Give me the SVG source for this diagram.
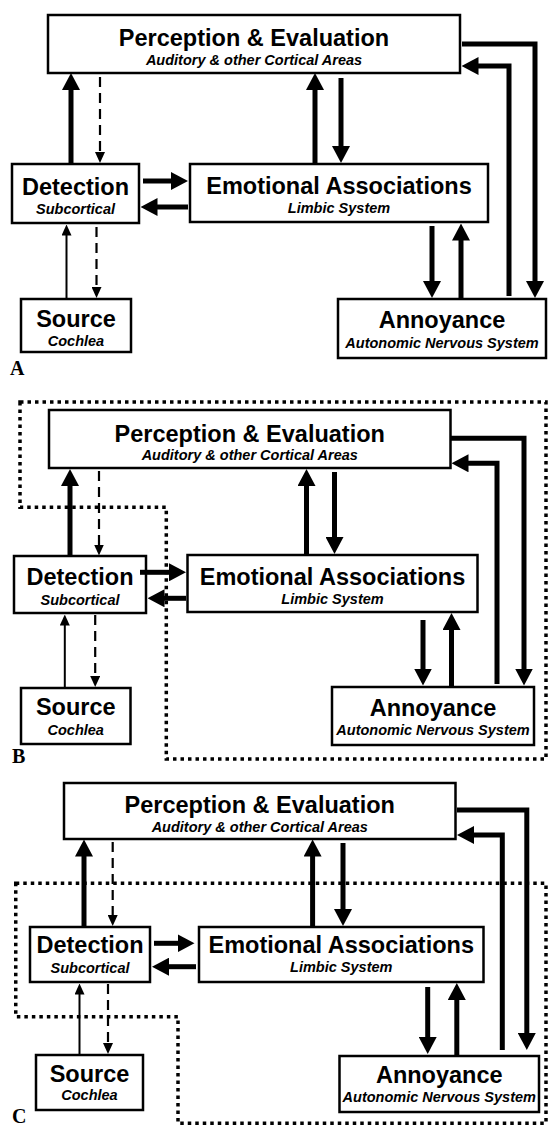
<svg xmlns="http://www.w3.org/2000/svg" width="549" height="1126" viewBox="0 0 549 1126">
<style>
.box{fill:#fff;stroke:#000;stroke-width:2.5}
.t{font-family:"Liberation Sans",Arial,sans-serif;font-weight:bold;font-size:23.5px;text-anchor:middle;fill:#000}
.s{font-family:"Liberation Sans",Arial,sans-serif;font-weight:bold;font-style:italic;font-size:14.5px;text-anchor:middle;fill:#000}
.lbl{font-family:"Liberation Serif","Times New Roman",serif;font-weight:bold;font-size:20px;fill:#000}
.thick{fill:none;stroke:#000;stroke-width:5;marker-end:url(#hb)}
.dash{fill:none;stroke:#000;stroke-width:2.2;stroke-dasharray:10 6;marker-end:url(#hs)}
.thin{fill:none;stroke:#000;stroke-width:2;marker-end:url(#hs)}
.dot{fill:none;stroke:#000;stroke-width:3.5;stroke-dasharray:3.5 4}
</style>
<defs>
<marker id="hb" markerUnits="userSpaceOnUse" markerWidth="17" markerHeight="18" viewBox="0 0 17 18" refX="0.5" refY="9" orient="auto"><path d="M0,0 L17,9 L0,18 Z" fill="#000"/></marker>
<marker id="hs" markerUnits="userSpaceOnUse" markerWidth="11" markerHeight="10" viewBox="0 0 11 10" refX="0.5" refY="5" orient="auto"><path d="M0,0 L11,5 L0,10 Z" fill="#000"/></marker>
</defs>

<!-- Panel A -->
<g id="A-perception"><rect class="box" x="48" y="15" width="412" height="58"/><text class="t" x="254" y="45.5">Perception &amp; Evaluation</text><text class="s" x="254" y="64.5">Auditory &amp; other Cortical Areas</text></g>
<g id="A-detection"><rect class="box" x="12" y="164" width="127" height="59"/><text class="t" x="75.5" y="195">Detection</text><text class="s" x="75.5" y="214">Subcortical</text></g>
<g id="A-emotional"><rect class="box" x="190" y="164" width="298" height="58"/><text class="t" x="339" y="194">Emotional Associations</text><text class="s" x="339" y="213">Limbic System</text></g>
<g id="A-source"><rect class="box" x="21" y="299" width="110" height="53"/><text class="t" x="76" y="327">Source</text><text class="s" x="76" y="346">Cochlea</text></g>
<g id="A-annoyance"><rect class="box" x="338" y="299" width="208" height="59"/><text class="t" x="442" y="328">Annoyance</text><text class="s" x="442" y="348">Autonomic Nervous System</text></g>
<g id="A-label"><text class="lbl" x="10" y="375">A</text></g>
<g id="A-connectors">
<path class="thick" d="M71,164 V89.5"/>
<path class="thick" d="M315,164 V89.5"/>
<path class="thick" d="M341,78 V146.5"/>
<path class="thick" d="M143,181 H171.5"/>
<path class="thick" d="M188,207 H157"/>
<path class="thick" d="M432,226 V281.5"/>
<path class="thick" d="M461,298 V240"/>
<path class="thick" d="M509,296 V66 H478"/>
<path class="thick" d="M462,44 H535 V281.5"/>
<path class="dash" d="M100,77 V152.5"/>
<path class="dash" d="M96.5,227 V287.5"/>
<path class="thin" d="M66.5,298 V235"/>
</g>

<!-- Panel B -->
<g id="B-region"><path class="dot" d="M20,402 H546 V759 H166.3 V507.3 H20 Z"/></g>
<g id="B-perception"><rect class="box" x="49" y="410" width="401.5" height="58"/><text class="t" x="249.75" y="441.7">Perception &amp; Evaluation</text><text class="s" x="249.75" y="460">Auditory &amp; other Cortical Areas</text></g>
<g id="B-detection"><rect class="box" x="14" y="556" width="132" height="57"/><text class="t" x="80" y="585">Detection</text><text class="s" x="80" y="605">Subcortical</text></g>
<g id="B-emotional"><rect class="box" x="187.5" y="555" width="290" height="57"/><text class="t" x="332.5" y="585">Emotional Associations</text><text class="s" x="332.5" y="604">Limbic System</text></g>
<g id="B-source"><rect class="box" x="21" y="688" width="109.5" height="56"/><text class="t" x="75.75" y="715">Source</text><text class="s" x="75.75" y="735">Cochlea</text></g>
<g id="B-annoyance"><rect class="box" x="332" y="687" width="202" height="58"/><text class="t" x="433" y="716">Annoyance</text><text class="s" x="433" y="735">Autonomic Nervous System</text></g>
<g id="B-label"><text class="lbl" x="12" y="763">B</text></g>
<g id="B-connectors">
<path class="thick" d="M70,556 V485.5"/>
<path class="thick" d="M306.5,555 V485.5"/>
<path class="thick" d="M334.5,472 V537.5"/>
<path class="thick" d="M140,572.3 H169.5"/>
<path class="thick" d="M186,598.3 H164"/>
<path class="thick" d="M423,620 V669"/>
<path class="thick" d="M451.5,686 V629.5"/>
<path class="thick" d="M497,684 V463.3 H468"/>
<path class="thick" d="M451,438.3 H524 V669"/>
<path class="dash" d="M99,471 V545"/>
<path class="dash" d="M95.2,615 V676.5"/>
<path class="thin" d="M64.8,687 V625"/>
</g>

<!-- Panel C -->
<g id="C-region"><path class="dot" d="M15.75,883.3 H546 V1123.3 H178 V1016.7 H15.75 Z"/></g>
<g id="C-perception"><rect class="box" x="64" y="783" width="391.5" height="56"/><text class="t" x="259.75" y="812.7">Perception &amp; Evaluation</text><text class="s" x="259.75" y="831.7">Auditory &amp; other Cortical Areas</text></g>
<g id="C-detection"><rect class="box" x="30" y="927" width="120" height="55"/><text class="t" x="90" y="953.3">Detection</text><text class="s" x="90" y="972.7">Subcortical</text></g>
<g id="C-emotional"><rect class="box" x="199" y="927" width="284.5" height="55"/><text class="t" x="341.25" y="953">Emotional Associations</text><text class="s" x="341.25" y="972">Limbic System</text></g>
<g id="C-source"><rect class="box" x="36" y="1055" width="107" height="55"/><text class="t" x="89.5" y="1081.7">Source</text><text class="s" x="89.5" y="1100">Cochlea</text></g>
<g id="C-annoyance"><rect class="box" x="339.5" y="1056" width="199.5" height="56"/><text class="t" x="439.25" y="1083.3">Annoyance</text><text class="s" x="439.25" y="1101.7">Autonomic Nervous System</text></g>
<g id="C-label"><text class="lbl" x="12" y="1123">C</text></g>
<g id="C-connectors">
<path class="thick" d="M84,927 V856"/>
<path class="thick" d="M312.6,927 V856"/>
<path class="thick" d="M343,843 V909.5"/>
<path class="thick" d="M154,943.3 H178"/>
<path class="thick" d="M196,966.7 H168.5"/>
<path class="thick" d="M427.7,987 V1037.5"/>
<path class="thick" d="M456.8,1055 V999.5"/>
<path class="thick" d="M502.3,1050 V835 H473.5"/>
<path class="thick" d="M457,810 H526.8 V1033.5"/>
<path class="dash" d="M112.7,842 V915.5"/>
<path class="dash" d="M108,984 V1043.5"/>
<path class="thin" d="M79.5,1055 V994"/>
</g>
</svg>
